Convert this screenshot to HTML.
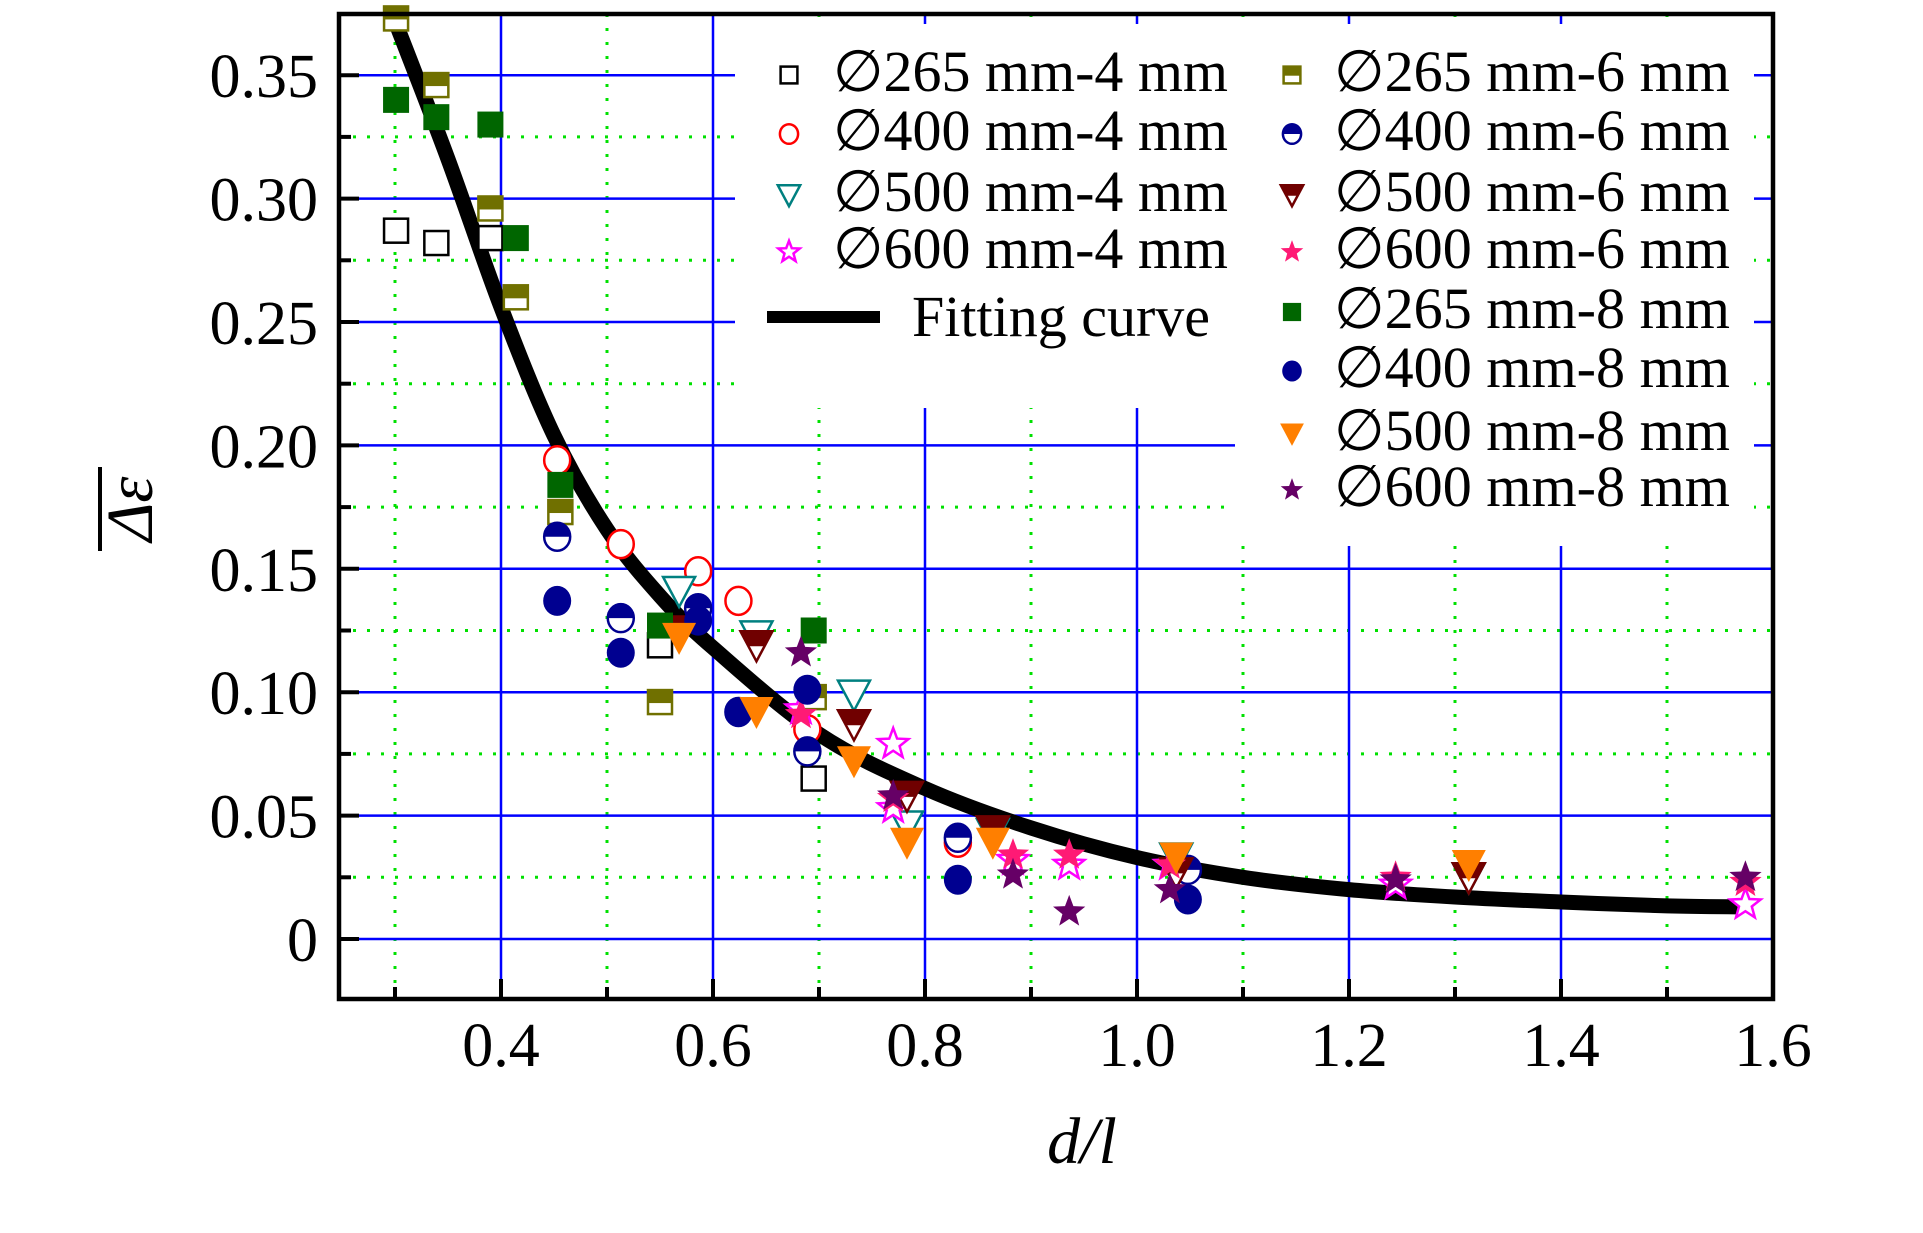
<!DOCTYPE html>
<html><head><meta charset="utf-8"><style>
html,body{margin:0;padding:0;background:#fff;}
svg{display:block;}
text{font-family:"Liberation Serif","DejaVu Serif",serif;fill:#000;}
</style></head><body>
<svg id="chart" width="1923" height="1233" viewBox="0 0 1923 1233" xmlns="http://www.w3.org/2000/svg">
<g id="grid"></g>
<g id="legend-bg">
<rect x="735" y="24" width="500" height="384" fill="#fff"/>
<rect x="1235" y="24" width="519" height="522" fill="#fff"/>
</g>
<g id="curve"></g>
<g id="marks"></g>
<g id="axes"></g>
<g id="legend"></g>
<text x="1082" y="1163" font-size="66" font-style="italic" text-anchor="middle">d/l</text>
<g transform="translate(152,509) rotate(-90)">
<text x="0" y="0" font-size="66" font-style="italic" text-anchor="middle">Δε</text>
<line x1="-42" y1="-52" x2="42" y2="-52" stroke="#000" stroke-width="4"/>
</g>
</svg>
<script>
const xTicks=[0.4,0.6,0.8,1.0,1.2,1.4,1.6];
const xTickLabels=["0.4","0.6","0.8","1.0","1.2","1.4","1.6"];
const xMinor=[0.3,0.5,0.7,0.9,1.1,1.3,1.5];
const yTicks=[0,0.05,0.10,0.15,0.20,0.25,0.30,0.35];
const yTickLabels=["0","0.05","0.10","0.15","0.20","0.25","0.30","0.35"];
const yMinor=[0.025,0.075,0.125,0.175,0.225,0.275,0.325];

const s265_4x=[0.301,0.339,0.39,0.55,0.695];
const s265_4y=[0.287,0.282,0.284,0.119,0.065];
const s265_6x=[0.301,0.339,0.39,0.414,0.456,0.55,0.695];
const s265_6y=[0.373,0.346,0.296,0.26,0.173,0.096,0.098];
const s265_8x=[0.301,0.339,0.39,0.414,0.456,0.55,0.695];
const s265_8y=[0.340,0.333,0.330,0.284,0.184,0.127,0.125];
const s400_4x=[0.453,0.513,0.586,0.624,0.689,0.831];
const s400_4y=[0.194,0.160,0.149,0.137,0.085,0.039];
const s400_6x=[0.453,0.513,0.586,0.624,0.689,0.831,1.048];
const s400_6y=[0.163,0.130,0.134,0.092,0.076,0.041,0.028];
const s400_8x=[0.453,0.513,0.586,0.624,0.689,0.831,1.048];
const s400_8y=[0.137,0.116,0.129,0.092,0.101,0.024,0.016];
const s500_4x=[0.568,0.641,0.733,0.783,0.864,1.037,1.313];
const s500_4y=[0.141,0.123,0.099,0.046,0.043,0.033,0.025];
const s500_6x=[0.568,0.641,0.733,0.783,0.864,1.037,1.313];
const s500_6y=[0.125,0.119,0.087,0.058,0.044,0.027,0.025];
const s500_8x=[0.568,0.641,0.733,0.783,0.864,1.037,1.313];
const s500_8y=[0.122,0.092,0.072,0.039,0.039,0.033,0.030];
const s600_4x=[0.683,0.77,0.77,0.883,0.936,1.031,1.244,1.574];
const s600_4y=[0.093,0.079,0.053,0.032,0.030,0.030,0.022,0.014];
const s600_6x=[0.683,0.77,0.883,0.936,1.031,1.244,1.574];
const s600_6y=[0.091,0.057,0.034,0.034,0.030,0.025,0.023];
const s600_8x=[0.683,0.77,0.883,0.936,1.031,1.244,1.574];
const s600_8y=[0.116,0.058,0.026,0.011,0.020,0.024,0.025];
const fitX=[0.30,0.35,0.40,0.45,0.50,0.55,0.60,0.70,0.80,0.90,1.0,1.1,1.2,1.3,1.4,1.5,1.57];
const fitY=[0.372,0.316,0.256,0.204,0.166,0.139,0.118,0.083,0.061,0.045,0.033,0.025,0.020,0.017,0.015,0.0134,0.013];

const NS="http://www.w3.org/2000/svg";
const L=339,R=1773,T=14,B=999;
function X(v){return 501+(v-0.4)*1060;}
function Y(v){return 939-v*2468;}
function mk(tag,attrs,parent){const e=document.createElementNS(NS,tag);for(const k in attrs)e.setAttribute(k,attrs[k]);parent.appendChild(e);return e;}

const grid=document.getElementById('grid');
xMinor.forEach(v=>{const e=mk('line',{x1:X(v),x2:X(v),y1:T,y2:B,stroke:'#00e000','stroke-width':3,'stroke-dasharray':'3,11'},grid);

});
yMinor.forEach(v=>{const e=mk('line',{x1:L,x2:R,y1:Y(v),y2:Y(v),stroke:'#00e000','stroke-width':3,'stroke-dasharray':'3,11'},grid);

});
xTicks.forEach(v=>{const e=mk('line',{x1:X(v),x2:X(v),y1:T,y2:B,stroke:'#0000ff','stroke-width':2.5},grid);

});
yTicks.forEach(v=>{const e=mk('line',{x1:L,x2:R,y1:Y(v),y2:Y(v),stroke:'#0000ff','stroke-width':2.5},grid);

});

// fitting curve (Catmull-Rom through points)
const curveG=document.getElementById('curve');
const P=fitX.map((x,i)=>[X(x),Y(fitY[i])]);
let d='M'+P[0][0]+','+P[0][1];
for(let i=0;i<P.length-1;i++){const p0=P[Math.max(0,i-1)],p1=P[i],p2=P[i+1],p3=P[Math.min(P.length-1,i+2)];
d+=' C'+(p1[0]+(p2[0]-p0[0])/6)+','+(p1[1]+(p2[1]-p0[1])/6)+' '+(p2[0]-(p3[0]-p1[0])/6)+','+(p2[1]-(p3[1]-p1[1])/6)+' '+p2[0]+','+p2[1];}
const cp=mk('path',{d:d,fill:'none',stroke:'#000','stroke-width':15},curveG);



function starPts(cx,cy,r){let s=[];for(let k=0;k<10;k++){const rr=k%2?r*0.42:r;const a=-Math.PI/2+k*Math.PI/5;s.push((cx+rr*Math.cos(a)).toFixed(1)+','+(cy+rr*Math.sin(a)).toFixed(1));}return s.join(' ');}
function marker(g,type,color,cx,cy,sc){
  const s=sc||1;
  if(type==='sq-open'){mk('rect',{x:cx-12*s,y:cy-12*s,width:24*s,height:24*s,fill:'#fff',stroke:color,'stroke-width':2.5},g);}
  else if(type==='sq-fill'){mk('rect',{x:cx-13*s,y:cy-13*s,width:26*s,height:26*s,fill:color},g);}
  else if(type==='sq-half'){mk('rect',{x:cx-12*s,y:cy-12*s,width:24*s,height:24*s,fill:'#fff',stroke:color,'stroke-width':2.5},g);mk('rect',{x:cx-12*s,y:cy-12*s,width:24*s,height:13*s,fill:color},g);}
  else if(type==='ci-open'){mk('ellipse',{cx:cx,cy:cy,rx:13*s,ry:14*s,fill:'#fff',stroke:color,'stroke-width':2.5},g);}
  else if(type==='ci-fill'){mk('ellipse',{cx:cx,cy:cy,rx:14*s,ry:15*s,fill:color},g);}
  else if(type==='ci-half'){mk('ellipse',{cx:cx,cy:cy,rx:13*s,ry:14*s,fill:'#fff',stroke:color,'stroke-width':2.5},g);mk('path',{d:'M'+(cx-13*s)+','+cy+' A'+13*s+','+14*s+' 0 0 1 '+(cx+13*s)+','+cy+' Z',fill:color},g);}
  else if(type==='tr-open'){mk('polygon',{points:(cx-16*s)+','+(cy-14*s)+' '+(cx+16*s)+','+(cy-14*s)+' '+cx+','+(cy+16*s),fill:'#fff',stroke:color,'stroke-width':2.5},g);}
  else if(type==='tr-fill'){mk('polygon',{points:(cx-17*s)+','+(cy-15*s)+' '+(cx+17*s)+','+(cy-15*s)+' '+cx+','+(cy+17*s),fill:color},g);}
  else if(type==='tr-half'){mk('polygon',{points:(cx-16*s)+','+(cy-14*s)+' '+(cx+16*s)+','+(cy-14*s)+' '+cx+','+(cy+16*s),fill:'#fff',stroke:color,'stroke-width':2.5},g);mk('polygon',{points:(cx-16*s)+','+(cy-14*s)+' '+(cx+16*s)+','+(cy-14*s)+' '+(cx+9*s)+','+(cy+1*s)+' '+(cx-9*s)+','+(cy+1*s),fill:color},g);}
  else if(type==='st-open'){mk('polygon',{points:starPts(cx,cy,16*s),fill:'#fff',stroke:color,'stroke-width':2.5},g);}
  else if(type==='st-fill'){mk('polygon',{points:starPts(cx,cy,17*s),fill:color},g);}
}
const series=[
 {n:'265 mm-4 mm',t:'sq-open',c:'#000',x:s265_4x,y:s265_4y},
 {n:'400 mm-4 mm',t:'ci-open',c:'#ff0000',x:s400_4x,y:s400_4y},
 {n:'500 mm-4 mm',t:'tr-open',c:'#008080',x:s500_4x,y:s500_4y},
 {n:'600 mm-4 mm',t:'st-open',c:'#ff00ff',x:s600_4x,y:s600_4y},
 {n:'265 mm-6 mm',t:'sq-half',c:'#707000',x:s265_6x,y:s265_6y},
 {n:'400 mm-6 mm',t:'ci-half',c:'#000090',x:s400_6x,y:s400_6y},
 {n:'500 mm-6 mm',t:'tr-half',c:'#700000',x:s500_6x,y:s500_6y},
 {n:'600 mm-6 mm',t:'st-fill',c:'#ff1a75',x:s600_6x,y:s600_6y},
 {n:'265 mm-8 mm',t:'sq-fill',c:'#006600',x:s265_8x,y:s265_8y},
 {n:'400 mm-8 mm',t:'ci-fill',c:'#000090',x:s400_8x,y:s400_8y},
 {n:'500 mm-8 mm',t:'tr-fill',c:'#ff7f00',x:s500_8x,y:s500_8y},
 {n:'600 mm-8 mm',t:'st-fill',c:'#660066',x:s600_8x,y:s600_8y}
];
const marks=document.getElementById('marks');
series.forEach(s=>{const g=mk('g',{},marks);


s.x.forEach((xv,i)=>{const pg=mk('g',{},g);


marker(pg,s.t,s.c,X(xv),Y(s.y[i]),1);});});

// axes
const ax=document.getElementById('axes');
mk('rect',{x:L,y:T,width:R-L,height:B-T,fill:'none',stroke:'#000','stroke-width':4.5},ax);
xTicks.forEach((v,i)=>{if(X(v)<R-2)mk('line',{x1:X(v),x2:X(v),y1:B,y2:B-20,stroke:'#000','stroke-width':4},ax);
const t=mk('text',{x:X(v),y:1066,'font-size':62,'text-anchor':'middle'},ax);t.textContent=xTickLabels[i];

});
xMinor.forEach(v=>{mk('line',{x1:X(v),x2:X(v),y1:B,y2:B-12,stroke:'#000','stroke-width':4},ax);});
yTicks.forEach((v,i)=>{mk('line',{x1:L,x2:L+20,y1:Y(v),y2:Y(v),stroke:'#000','stroke-width':4},ax);
const t=mk('text',{x:318,y:Y(v)+22,'font-size':62,'text-anchor':'end'},ax);t.textContent=yTickLabels[i];

});
yMinor.forEach(v=>{mk('line',{x1:L,x2:L+12,y1:Y(v),y2:Y(v),stroke:'#000','stroke-width':4},ax);});

// legend
const lg=document.getElementById('legend');
const rowY1=[75,134,195,252];
const rowY2=[75,134,195,252,312,371,434,490];
series.forEach((s,i)=>{let mx,my,tx,tw;
 if(i<4){mx=789;my=rowY1[i];tx=833;tw=395;}else{mx=1292;my=rowY2[i-4];tx=1334;tw=396;}
 const g=mk('g',{},lg);
 
 
 marker(g,s.t,s.c,mx,my,0.7);
 const t=mk('text',{x:tx,y:my+16,'font-size':58,textLength:tw,lengthAdjust:'spacingAndGlyphs'},g);
 t.textContent='∅'+s.n;});
const fg=mk('g',{},lg);


mk('line',{x1:767,x2:880,y1:317,y2:317,stroke:'#000','stroke-width':12},fg);
const ft=mk('text',{x:912,y:336,'font-size':58,textLength:298,lengthAdjust:'spacingAndGlyphs'},fg);ft.textContent='Fitting curve';
</script>
</body></html>
